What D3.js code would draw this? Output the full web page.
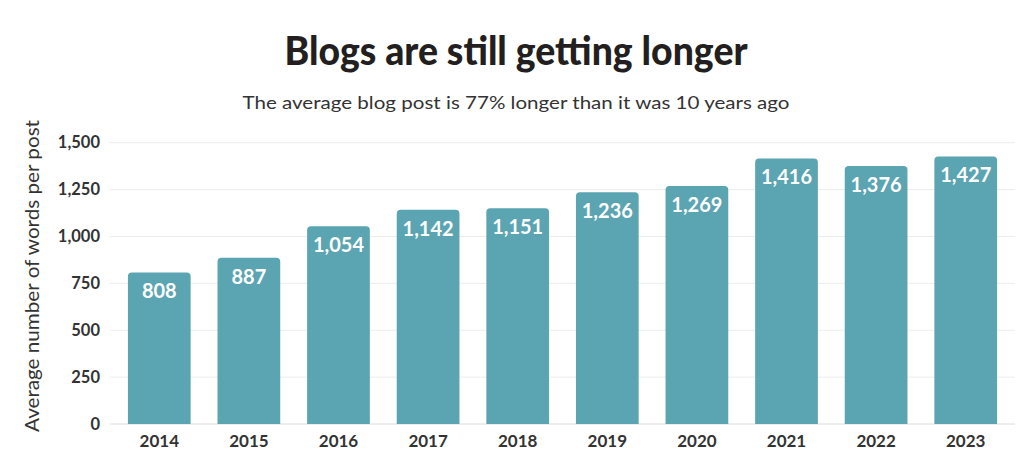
<!DOCTYPE html>
<html><head><meta charset="utf-8">
<script src="https://cdn.jsdelivr.net/npm/d3@7"></script>
<style>body{margin:0;background:#fff}svg{display:block}</style>
</head><body><svg id="c" width="1024" height="470"></svg>
<script>
const years = ["2014","2015","2016","2017","2018","2019","2020","2021","2022","2023"];
const words = [808, 887, 1054, 1142, 1151, 1236, 1269, 1416, 1376, 1427];
const yTicks = [0, 250, 500, 750, 1000, 1250, 1500];
const titleText = "Blogs are still getting longer";
const subtitleText = "The average blog post is 77% longer than it was 10 years ago";
const yTitle = "Average number of words per post";

(function () {
const svg = d3.select("#c");
const font = "Lato, 'Open Sans', sans-serif";
const pLeft = 110, pRight = 1015, pTop = 142.7, pBottom = 424;

const x = d3.scaleBand().domain(years).range([pLeft, pRight]).paddingInner(0.3).paddingOuter(0.2);
const y = d3.scaleLinear().domain([0, 1500]).range([pBottom, pTop]);

// title
svg.append("text").attr("x", 516).attr("y", 65).attr("text-anchor", "middle")
  .attr("font-family", font).attr("font-weight", 900).attr("font-size", 39)
  .attr("fill", "#231f20").attr("textLength", 463).attr("lengthAdjust", "spacingAndGlyphs")
  .text(titleText);
svg.append("text").attr("x", 516).attr("y", 109).attr("text-anchor", "middle")
  .attr("font-family", font).attr("font-size", 17.5).attr("fill", "#333")
  .attr("textLength", 547).attr("lengthAdjust", "spacingAndGlyphs")
  .text(subtitleText);

// grid
svg.append("g").selectAll("line").data(yTicks).join("line")
  .attr("x1", pLeft).attr("x2", pRight)
  .attr("y1", d => y(d)).attr("y2", d => y(d))
  .attr("stroke", d => d === 0 ? "#dcdcdc" : "#ececec").attr("stroke-width", 1);

// y axis
const yAxis = svg.append("g").attr("transform", `translate(${pLeft - 10},0)`)
  .call(d3.axisLeft(y).tickValues(yTicks).tickSize(0).tickPadding(0).tickFormat(d3.format(",")));
yAxis.select(".domain").remove();
yAxis.selectAll("text").attr("font-family", font).attr("font-weight", 700)
  .attr("font-size", 16.5).attr("fill", "#333");

// x axis
const xAxis = svg.append("g").attr("transform", `translate(0,${pBottom})`)
  .call(d3.axisBottom(x).tickSize(0).tickPadding(9));
xAxis.select(".domain").remove();
xAxis.selectAll("text").attr("font-family", font).attr("font-weight", 700)
  .attr("font-size", 17).attr("fill", "#333").attr("dy", "0.8em");

// y title
svg.append("text").attr("transform", `translate(39,${(120 + 432) / 2}) rotate(-90)`)
  .attr("text-anchor", "middle").attr("font-family", font).attr("font-size", 19.5)
  .attr("fill", "#333").attr("textLength", 312).attr("lengthAdjust", "spacingAndGlyphs")
  .text(yTitle);

// bars with rounded top
const r = 4;
function barPath(d, i) {
  const x0 = x(years[i]), w = x.bandwidth(), y0 = y(d), y1 = y(0);
  return `M${x0},${y1}V${y0 + r}Q${x0},${y0} ${x0 + r},${y0}H${x0 + w - r}Q${x0 + w},${y0} ${x0 + w},${y0 + r}V${y1}Z`;
}
svg.append("g").selectAll("path").data(words).join("path")
  .attr("d", barPath).attr("fill", "#5ba4b1");

svg.append("g").selectAll("text").data(words).join("text")
  .attr("x", (d, i) => x(years[i]) + x.bandwidth() / 2)
  .attr("y", d => y(d) + 26)
  .attr("text-anchor", "middle").attr("font-family", font).attr("font-weight", 700)
  .attr("font-size", 20).attr("fill", "#fff")
  .text(d => d3.format(",")(d));
})();
</script></body></html>
